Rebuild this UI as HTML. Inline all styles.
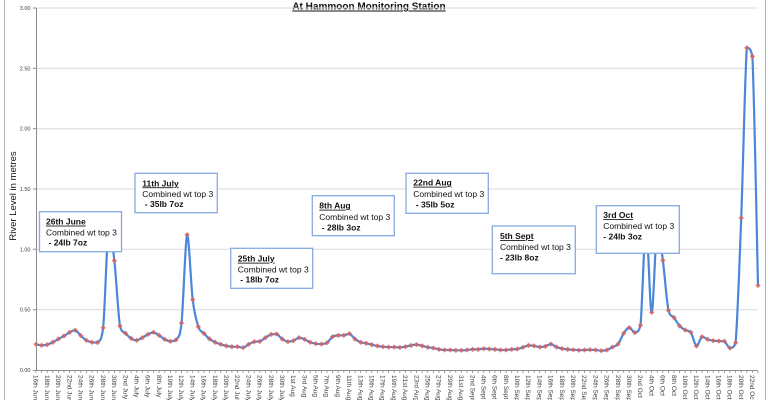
<!DOCTYPE html>
<html>
<head>
<meta charset="utf-8">
<style>
  html,body{margin:0;padding:0;background:#fff;}
  svg{display:block;}
  .tk{font-family:"Liberation Sans",sans-serif;font-size:5.5px;fill:#404040;}
  .xl{font-family:"Liberation Sans",sans-serif;font-size:6.5px;fill:#404040;}
  .bx{font-family:"Liberation Sans",sans-serif;font-size:8.5px;fill:#111;}
  .b{font-weight:bold;}
  .u{font-weight:bold;text-decoration:underline;}
</style>
</head>
<body>
<svg id="chart" width="770" height="400" viewBox="0 0 770 400" xmlns="http://www.w3.org/2000/svg">
  <rect x="0" y="0" width="770" height="400" fill="#fff"/>
  <line x1="4.5" y1="0" x2="4.5" y2="400" stroke="#b0b0b0" stroke-width="1"/>
  <line x1="765.5" y1="0" x2="765.5" y2="400" stroke="#b0b0b0" stroke-width="1"/>

  <text x="369" y="9.5" text-anchor="middle" font-family="Liberation Sans, sans-serif" font-size="10" font-weight="bold" text-decoration="underline" fill="#111">At Hammoon Monitoring Station</text>

  <text transform="translate(16,196) rotate(-90)" text-anchor="middle" font-family="Liberation Sans, sans-serif" font-size="9.5" fill="#111">River Level in metres</text>

  <g stroke="#d9d9d9" stroke-width="1">
    <line x1="36" y1="8" x2="758" y2="8"/>
    <line x1="36" y1="68.3" x2="758" y2="68.3"/>
    <line x1="36" y1="128.7" x2="758" y2="128.7"/>
    <line x1="36" y1="189" x2="758" y2="189"/>
    <line x1="36" y1="249.3" x2="758" y2="249.3"/>
    <line x1="36" y1="309.7" x2="758" y2="309.7"/>
  </g>

  <g class="tk" text-anchor="end">
    <text x="30.5" y="10">3.00</text>
    <text x="30.5" y="70.3">2.50</text>
    <text x="30.5" y="130.7">2.00</text>
    <text x="30.5" y="191">1.50</text>
    <text x="30.5" y="251.3">1.00</text>
    <text x="30.5" y="311.7">0.50</text>
    <text x="30.5" y="372">0.00</text>
  </g>

  <g stroke="#8c8c8c" stroke-width="1">
    <line x1="36.5" y1="8" x2="36.5" y2="370"/>
    <line x1="36" y1="370.5" x2="758" y2="370.5"/>
    <line x1="33" y1="8" x2="36" y2="8"/>
    <line x1="33" y1="68.3" x2="36" y2="68.3"/>
    <line x1="33" y1="128.7" x2="36" y2="128.7"/>
    <line x1="33" y1="189" x2="36" y2="189"/>
    <line x1="33" y1="249.3" x2="36" y2="249.3"/>
    <line x1="33" y1="309.7" x2="36" y2="309.7"/>
    <line x1="33" y1="370.5" x2="36" y2="370.5"/>
  </g>
  <g id="xticks" stroke="#8c8c8c" stroke-width="0.8"></g>

  <g class="xl">
    <text transform="translate(36,375) rotate(90)" dy="0.35em">16th June</text>
    <text transform="translate(47.2,375) rotate(90)" dy="0.35em">18th June</text>
    <text transform="translate(58.4,375) rotate(90)" dy="0.35em">20th June</text>
    <text transform="translate(69.6,375) rotate(90)" dy="0.35em">22nd June</text>
    <text transform="translate(80.8,375) rotate(90)" dy="0.35em">24th June</text>
    <text transform="translate(92,375) rotate(90)" dy="0.35em">26th June</text>
    <text transform="translate(103.2,375) rotate(90)" dy="0.35em">28th June</text>
    <text transform="translate(114.4,375) rotate(90)" dy="0.35em">30th June</text>
    <text transform="translate(125.6,375) rotate(90)" dy="0.35em">2nd July</text>
    <text transform="translate(136.7,375) rotate(90)" dy="0.35em">4th July</text>
    <text transform="translate(147.9,375) rotate(90)" dy="0.35em">6th July</text>
    <text transform="translate(159.1,375) rotate(90)" dy="0.35em">8th July</text>
    <text transform="translate(170.3,375) rotate(90)" dy="0.35em">10th July</text>
    <text transform="translate(181.5,375) rotate(90)" dy="0.35em">12th July</text>
    <text transform="translate(192.7,375) rotate(90)" dy="0.35em">14th July</text>
    <text transform="translate(203.9,375) rotate(90)" dy="0.35em">16th July</text>
    <text transform="translate(215.1,375) rotate(90)" dy="0.35em">18th July</text>
    <text transform="translate(226.3,375) rotate(90)" dy="0.35em">20th July</text>
    <text transform="translate(237.5,375) rotate(90)" dy="0.35em">22nd July</text>
    <text transform="translate(248.7,375) rotate(90)" dy="0.35em">24th July</text>
    <text transform="translate(259.9,375) rotate(90)" dy="0.35em">26th July</text>
    <text transform="translate(271.1,375) rotate(90)" dy="0.35em">28th July</text>
    <text transform="translate(282.3,375) rotate(90)" dy="0.35em">30th July</text>
    <text transform="translate(293.5,375) rotate(90)" dy="0.35em">1st Aug</text>
    <text transform="translate(304.7,375) rotate(90)" dy="0.35em">3rd Aug</text>
    <text transform="translate(315.8,375) rotate(90)" dy="0.35em">5th Aug</text>
    <text transform="translate(327,375) rotate(90)" dy="0.35em">7th Aug</text>
    <text transform="translate(338.2,375) rotate(90)" dy="0.35em">9th Aug</text>
    <text transform="translate(349.4,375) rotate(90)" dy="0.35em">11th Aug</text>
    <text transform="translate(360.6,375) rotate(90)" dy="0.35em">13th Aug</text>
    <text transform="translate(371.8,375) rotate(90)" dy="0.35em">15th Aug</text>
    <text transform="translate(383,375) rotate(90)" dy="0.35em">17th Aug</text>
    <text transform="translate(394.2,375) rotate(90)" dy="0.35em">19th Aug</text>
    <text transform="translate(405.4,375) rotate(90)" dy="0.35em">21st Aug</text>
    <text transform="translate(416.6,375) rotate(90)" dy="0.35em">23rd Aug</text>
    <text transform="translate(427.8,375) rotate(90)" dy="0.35em">25th Aug</text>
    <text transform="translate(439,375) rotate(90)" dy="0.35em">27th Aug</text>
    <text transform="translate(450.2,375) rotate(90)" dy="0.35em">29th Aug</text>
    <text transform="translate(461.4,375) rotate(90)" dy="0.35em">31st Aug</text>
    <text transform="translate(472.6,375) rotate(90)" dy="0.35em">2nd Sept</text>
    <text transform="translate(483.8,375) rotate(90)" dy="0.35em">4th Sept</text>
    <text transform="translate(494.9,375) rotate(90)" dy="0.35em">6th Sept</text>
    <text transform="translate(506.1,375) rotate(90)" dy="0.35em">8th Sept</text>
    <text transform="translate(517.3,375) rotate(90)" dy="0.35em">10th Sept</text>
    <text transform="translate(528.5,375) rotate(90)" dy="0.35em">12th Sept</text>
    <text transform="translate(539.7,375) rotate(90)" dy="0.35em">14th Sept</text>
    <text transform="translate(550.9,375) rotate(90)" dy="0.35em">16th Sept</text>
    <text transform="translate(562.1,375) rotate(90)" dy="0.35em">18th Sept</text>
    <text transform="translate(573.3,375) rotate(90)" dy="0.35em">20th Sept</text>
    <text transform="translate(584.5,375) rotate(90)" dy="0.35em">22nd Sept</text>
    <text transform="translate(595.7,375) rotate(90)" dy="0.35em">24th Sept</text>
    <text transform="translate(606.9,375) rotate(90)" dy="0.35em">26th Sept</text>
    <text transform="translate(618.1,375) rotate(90)" dy="0.35em">28th Sept</text>
    <text transform="translate(629.3,375) rotate(90)" dy="0.35em">30th Sept</text>
    <text transform="translate(640.5,375) rotate(90)" dy="0.35em">2nd Oct</text>
    <text transform="translate(651.7,375) rotate(90)" dy="0.35em">4th Oct</text>
    <text transform="translate(662.9,375) rotate(90)" dy="0.35em">6th Oct</text>
    <text transform="translate(674.1,375) rotate(90)" dy="0.35em">8th Oct</text>
    <text transform="translate(685.3,375) rotate(90)" dy="0.35em">10th Oct</text>
    <text transform="translate(696.4,375) rotate(90)" dy="0.35em">12th Oct</text>
    <text transform="translate(707.6,375) rotate(90)" dy="0.35em">14th Oct</text>
    <text transform="translate(718.8,375) rotate(90)" dy="0.35em">16th Oct</text>
    <text transform="translate(730,375) rotate(90)" dy="0.35em">18th Oct</text>
    <text transform="translate(741.2,375) rotate(90)" dy="0.35em">20th Oct</text>
    <text transform="translate(752.4,375) rotate(90)" dy="0.35em">22nd Oct</text>
  </g>

  <g id="fallback" transform="translate(36,370) scale(5.5969,-120.667)">
    <polyline fill="none" stroke="#4a86d9" stroke-width="2.2" vector-effect="non-scaling-stroke" stroke-linejoin="round"
      points="0,0.213 1,0.205 2,0.21 3,0.23 4,0.257 5,0.282 6,0.312 7,0.33 8,0.285 9,0.246 10,0.23 11,0.228 12,0.35 13,1.2 14,0.906 15,0.365 16,0.304 17,0.262 18,0.246 19,0.268 20,0.295 21,0.312 22,0.287 23,0.254 24,0.238 25,0.249 26,0.39 27,1.121 28,0.583 29,0.359 30,0.304 31,0.258 32,0.23 33,0.213 34,0.2 35,0.193 36,0.193 37,0.185 38,0.213 39,0.235 40,0.237 41,0.268 42,0.295 43,0.298 44,0.257 45,0.235 46,0.243 47,0.268 48,0.254 49,0.23 50,0.218 51,0.215 52,0.226 53,0.276 54,0.287 55,0.287 56,0.301 57,0.257 58,0.23 59,0.221 60,0.21 61,0.199 62,0.193 63,0.19 64,0.19 65,0.187 66,0.193 67,0.204 68,0.21 69,0.2 70,0.188 71,0.182 72,0.171 73,0.166 74,0.166 75,0.163 76,0.163 77,0.166 78,0.171 79,0.171 80,0.177 81,0.174 82,0.171 83,0.166 84,0.166 85,0.171 86,0.174 87,0.188 88,0.204 89,0.2 90,0.19 91,0.196 92,0.215 93,0.19 94,0.177 95,0.171 96,0.167 97,0.164 98,0.166 99,0.168 100,0.166 101,0.16 102,0.166 103,0.19 104,0.215 105,0.304 106,0.351 107,0.31 108,0.37 109,1.2 110,0.478 111,1.2 112,0.909 113,0.495 114,0.434 115,0.365 116,0.331 117,0.312 118,0.199 119,0.276 120,0.254 121,0.243 122,0.24 123,0.238 124,0.182 125,0.226 126,1.26 127,2.67 128,2.6 129,0.7"/>
  </g>
  <g id="series"></g>

  <g fill="#fff" stroke="#86aae0" stroke-width="1.3">
    <rect x="39.5" y="211.7" width="82" height="40"/>
    <rect x="135" y="173.3" width="82.3" height="39.4"/>
    <rect x="230.7" y="248.3" width="82" height="40"/>
    <rect x="312.3" y="195.7" width="82" height="40"/>
    <rect x="406" y="173.3" width="82.3" height="40"/>
    <rect x="492.3" y="226" width="83" height="47.7"/>
    <rect x="596.3" y="205.7" width="83" height="47.6"/>
  </g>
  <g class="bx">
    <text class="u" x="46" y="224.6">26th June</text>
    <text x="46" y="235.6">Combined wt top 3</text>
    <text class="b" x="48.5" y="245.6">- 24lb 7oz</text>

    <text class="u" x="142.3" y="186.3">11th July</text>
    <text x="142.3" y="197">Combined wt top 3</text>
    <text class="b" x="144.8" y="207">- 35lb 7oz</text>

    <text class="u" x="237.8" y="261.7">25th July</text>
    <text x="237.8" y="272.3">Combined wt top 3</text>
    <text class="b" x="240.3" y="282.3">- 18lb 7oz</text>

    <text class="u" x="319.3" y="208.7">8th Aug</text>
    <text x="319.3" y="220">Combined wt top 3</text>
    <text class="b" x="321.8" y="230.3">- 28lb 3oz</text>

    <text class="u" x="413.3" y="185.7">22nd Aug</text>
    <text x="413.3" y="197">Combined wt top 3</text>
    <text class="b" x="415.8" y="207.3">- 35lb 5oz</text>

    <text class="u" x="500" y="239">5th Sept</text>
    <text x="500" y="250">Combined wt top 3</text>
    <text class="b" x="500" y="260.3">- 23lb 8oz</text>

    <text class="u" x="603.3" y="218">3rd Oct</text>
    <text x="603.3" y="229">Combined wt top 3</text>
    <text class="b" x="603.3" y="239.7">- 24lb 3oz</text>
  </g>
</svg>
<script>
(function(){
  var v=[0.213,0.205,0.21,0.23,0.257,0.282,0.312,0.33,0.285,0.246,0.23,0.228,0.35,1.2,0.906,0.365,0.304,0.262,0.246,0.268,0.295,0.312,0.287,0.254,0.238,0.249,0.39,1.121,0.583,0.359,0.304,0.258,0.23,0.213,0.2,0.193,0.193,0.185,0.213,0.235,0.237,0.268,0.295,0.298,0.257,0.235,0.243,0.268,0.254,0.23,0.218,0.215,0.226,0.276,0.287,0.287,0.301,0.257,0.23,0.221,0.21,0.199,0.193,0.19,0.19,0.187,0.193,0.204,0.21,0.2,0.188,0.182,0.171,0.166,0.166,0.163,0.163,0.166,0.171,0.171,0.177,0.174,0.171,0.166,0.166,0.171,0.174,0.188,0.204,0.2,0.19,0.196,0.215,0.19,0.177,0.171,0.167,0.164,0.166,0.168,0.166,0.16,0.166,0.19,0.215,0.304,0.351,0.31,0.37,1.2,0.478,1.2,0.909,0.495,0.434,0.365,0.331,0.312,0.199,0.276,0.254,0.243,0.24,0.238,0.182,0.226,1.26,2.67,2.6,0.7];
  var NS="http://www.w3.org/2000/svg";
  function X(i){return 36+i*5.5969;}
  function Y(a){return 370-a*120.667;}
  function cl(a,lo,hi){return a<lo?lo:(a>hi?hi:a);}
  var p=v.map(function(a,i){return [X(i),Y(a)];});
  var n=p.length;
  var d="M"+p[0][0].toFixed(2)+","+p[0][1].toFixed(2);
  for(var i=0;i<n-1;i++){
    var p0=p[i>0?i-1:i],p1=p[i],p2=p[i+1],p3=p[i+2<n?i+2:i+1];
    var lo=Math.min(p1[1],p2[1]),hi=Math.max(p1[1],p2[1]);
    var c1x=p1[0]+(p2[0]-p0[0])/6,c1y=cl(p1[1]+(p2[1]-p0[1])/6,lo,hi);
    var c2x=p2[0]-(p3[0]-p1[0])/6,c2y=cl(p2[1]-(p3[1]-p1[1])/6,lo,hi);
    d+=" C"+c1x.toFixed(2)+","+c1y.toFixed(2)+" "+c2x.toFixed(2)+","+c2y.toFixed(2)+" "+p2[0].toFixed(2)+","+p2[1].toFixed(2);
  }
  var g=document.getElementById("series");
  var path=document.createElementNS(NS,"path");
  path.setAttribute("d",d);
  path.setAttribute("fill","none");
  path.setAttribute("stroke","#4a86d9");
  path.setAttribute("stroke-width","2.2");
  path.setAttribute("stroke-linejoin","round");
  g.appendChild(path);
  for(var j=0;j<n;j++){
    var c=document.createElementNS(NS,"path");
    var x=p[j][0],y=p[j][1],s=2.7;
    c.setAttribute("d","M"+x+","+(y-s)+" L"+(x+s)+","+y+" L"+x+","+(y+s)+" L"+(x-s)+","+y+" Z");
    c.setAttribute("fill","#d9605a");
    c.setAttribute("fill-opacity","0.8");
    g.appendChild(c);
  }
  var fb=document.getElementById("fallback");
  if(fb) fb.parentNode.removeChild(fb);
  var t=document.getElementById("xticks");
  for(var k=0;k<130;k++){
    var l=document.createElementNS(NS,"line");
    var xx=X(k);
    l.setAttribute("x1",xx);l.setAttribute("x2",xx);
    l.setAttribute("y1",370.5);l.setAttribute("y2",373);
    t.appendChild(l);
  }
})();
</script>
</body>
</html>
